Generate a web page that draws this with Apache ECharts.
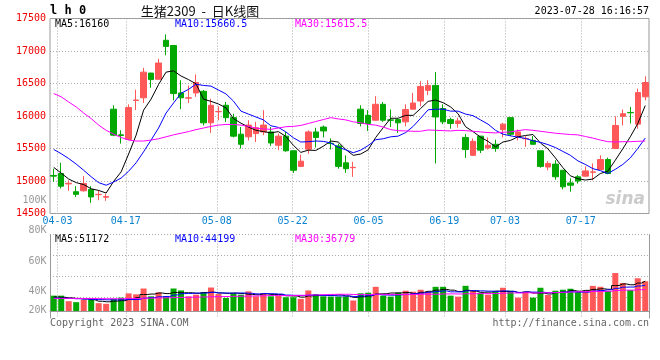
<!DOCTYPE html>
<html><head><meta charset="utf-8">
<script src="https://cdn.jsdelivr.net/npm/echarts@6/dist/echarts.min.js"></script>
<style>html,body{margin:0;padding:0;background:#fff}#c{width:660px;height:360px}</style>
</head><body><div id="c"></div>
<script>
// ---------- data ----------
const dates = ['03-31','04-03','04-04','04-06','04-07','04-10','04-11','04-12','04-13','04-14',
'04-17','04-18','04-19','04-20','04-21','04-24','04-25','04-26','04-27','04-28',
'05-04','05-05','05-08','05-09','05-10','05-11','05-12','05-15','05-16','05-17',
'05-18','05-19','05-22','05-23','05-24','05-25','05-26','05-29','05-30','05-31',
'06-01','06-02','06-05','06-06','06-07','06-08','06-09','06-12','06-13','06-14',
'06-15','06-16','06-19','06-20','06-21','06-26','06-27','06-28','06-29','06-30',
'07-03','07-04','07-05','07-06','07-07','07-10','07-11','07-12','07-13','07-14',
'07-17','07-18','07-19','07-20','07-21','07-24','07-25','07-26','07-27','07-28'];
const open  = [15085,15115,14955,14835,14850,14870,14790,14750,16105,15710,15640,16240,16280,16660,16565,17165,17085,16355,16275,16355,16380,15895,16065,16165,15975,15720,15680,15730,15755,15755,15550,15690,15465,15225,15490,15755,15830,15580,15540,15280,15205,16105,16010,15935,16180,15940,15945,15910,16105,16230,16395,16470,16115,15945,15885,15670,15395,15690,15510,15565,15790,15975,15690,15650,15625,15465,15215,15260,15165,14970,15065,15075,15135,15175,15330,15500,15995,16055,15875,16295];
const close = [15075,14920,14965,14795,14960,14755,14795,14760,15705,15700,16130,16245,16675,16560,16815,17070,16345,16280,16280,16515,15895,16165,16070,15975,15690,15565,15860,15820,15860,15585,15690,15465,15165,15305,15755,15670,15770,15575,15225,15190,15210,15885,15885,16180,15935,15935,15895,16100,16200,16455,16470,15985,15910,15885,15925,15485,15610,15475,15550,15500,15875,15720,15755,15655,15565,15225,15270,15065,14910,14935,15000,15155,15140,15330,15115,15855,16035,16050,16360,16515];
const low   = [14990,14885,14850,14755,14835,14665,14705,14695,15690,15575,15630,16090,16200,16435,16560,16935,16240,16105,16200,16295,15855,15740,15935,15910,15670,15500,15625,15600,15705,15540,15475,15450,15125,15215,15420,15515,15670,15485,15190,15125,15065,15840,15770,15930,15910,15830,15740,15840,16100,16150,16320,15270,15875,15805,15820,15355,15390,15430,15485,15450,15670,15690,15625,15525,15560,15205,15165,15020,14870,14835,14960,15065,15010,15170,15105,15495,15855,15885,15805,16240];
const high  = [15190,15280,15010,14920,15075,14920,14860,14805,16165,15780,16180,16405,16740,16665,16880,17255,17090,16550,16470,16640,16400,16265,16150,16215,16035,15830,15935,15910,16090,15830,15730,15755,15465,15405,15780,15820,15855,15655,15575,15395,15295,16165,16090,16305,16215,16100,15960,16180,16355,16535,16550,16675,16180,15975,15975,15720,15655,15690,15670,15635,15895,15980,15790,15690,15690,15465,15305,15320,15170,15040,15090,15225,15270,15395,15360,15995,16100,16140,16420,16610];
const ma5  = [15210,15120,15030,14975,14945,14880,14855,14815,14995,15140,15415,15705,16090,16260,16485,16675,16695,16615,16560,16495,16260,16225,16185,16125,15960,15890,15830,15780,15760,15740,15760,15685,15550,15440,15475,15470,15535,15615,15600,15485,15395,15415,15480,15670,15820,15965,15965,16010,16010,16115,16225,16245,16205,16140,16035,15835,15760,15675,15610,15525,15600,15625,15680,15700,15715,15585,15495,15355,15205,15080,15035,15015,15030,15115,15150,15320,15495,15680,15885,16160];
const ma10 = [15485,15420,15345,15260,15165,15065,14975,14935,14985,15045,15150,15280,15450,15630,15815,16045,16200,16350,16410,16490,16470,16460,16400,16340,16230,16075,16030,15985,15940,15850,15825,15755,15665,15600,15605,15615,15610,15585,15520,15480,15435,15475,15545,15635,15650,15680,15690,15745,15840,15965,16095,16105,16105,16075,16075,16030,16005,15940,15875,15780,15720,15695,15675,15655,15620,15595,15560,15515,15455,15395,15310,15255,15190,15160,15115,15180,15255,15355,15500,15660.5];
const ma30 = [16345,16295,16215,16140,16045,15960,15860,15780,15720,15670,15630,15615,15615,15630,15650,15680,15710,15735,15760,15790,15815,15840,15860,15870,15870,15860,15840,15815,15800,15795,15815,15835,15840,15855,15885,15915,15945,15975,15955,15940,15910,15895,15870,15860,15830,15790,15775,15770,15765,15765,15785,15780,15775,15770,15780,15775,15765,15755,15745,15740,15750,15755,15775,15790,15780,15765,15750,15735,15725,15715,15710,15685,15660,15630,15605,15600,15605,15605,15610,15615.5];
const volume = [26300,26300,16800,15100,19100,19000,13400,12300,20700,22900,30200,28500,38500,25100,31900,25100,38500,35200,25100,27900,31900,40200,29000,22400,30200,27900,33600,25100,30200,25100,26200,23500,23500,20700,35200,29000,25100,24600,24600,24600,18000,30300,31300,41400,26300,24600,31300,34700,33000,36400,33000,41400,41400,26300,24600,43100,34700,31300,28000,33000,39800,34700,22900,33000,22900,39800,27400,34700,36400,38100,33000,34500,43000,41500,34100,65000,48000,36000,56000,50900];
const volMa5  = [24000,23500,22500,21500,20700,19300,16700,15800,16900,17700,19900,22900,28200,29000,30800,29800,31800,31200,31200,30400,31700,32100,30800,30300,30700,29900,28600,27800,29400,28400,28000,26000,25700,23800,25800,26400,26700,26900,27700,25600,23400,24400,25800,29100,29500,30800,31000,31700,30000,32000,33700,35700,37000,35700,33300,35400,34000,32000,32300,34000,33400,33400,31700,32700,30700,30700,29200,31600,32200,35300,33900,35300,37000,38000,37200,43600,46300,44900,47800,51172];
const volMa10 = [22000,21800,21500,21000,20500,20000,19500,19200,19000,19200,19600,19800,22000,23000,24300,24900,27400,29700,30100,30600,30800,31900,31000,30700,30600,30800,30300,29300,29800,29600,29000,27300,26800,26600,27100,27200,26400,26300,25800,25700,24900,25600,26300,28400,27500,27100,27700,28700,29600,30700,32200,33300,34400,32800,32700,34500,34900,34500,34000,33700,34400,33700,31800,32500,32300,32000,31300,31600,32500,33000,32300,32300,34300,35100,36300,38800,40800,41000,42900,44199];
const volMa30 = [21500,21600,21600,21500,21400,21300,21200,21000,21000,21100,21300,21500,21900,22100,22400,22600,23000,23300,23500,23800,24100,24500,24700,24800,25100,25300,25600,25800,26100,26500,26400,26400,26600,26800,27300,27600,28000,28400,28600,28600,28200,28300,28000,28600,28400,28400,28100,28100,28400,28700,28700,28700,29200,29300,29100,29600,29600,29800,29800,30000,30500,30900,30800,31300,30800,31200,31300,31600,32000,32500,33000,33100,33500,33500,33800,35100,35700,35700,36500,36779];
const labelDates = ['04-03','04-17','05-08','05-22','06-05','06-19','07-03','07-17'];
const volTickLabels = ['100K','80K','60K','40K','20K'];
const legendPrice = ['MA5:16160','MA10:15660.5','MA30:15615.5'];
const legendVol = ['MA5:51172','MA10:44199','MA30:36779'];
const titleText = '生猪2309  -  日K线图';
const codeText = 'l h 0';
const timeText = '2023-07-28 16:16:57';

// ---------- styles / layout ----------
const RED = '#ff5858', GREEN = '#00a800';
const MONO = '"DejaVu Sans Mono", "Liberation Mono", monospace';
const GRIDC = '#aaaaaa', BORDER = '#999999';
const maColors = ['#000000', '#0000ff', '#ff00ff'];
const volLabelY = [200, 230.5, 261.5, 291, 310.5];
const legendX = [55, 175, 295];

const isLabel = (idx, val) => labelDates.indexOf(val) >= 0;
const dotted = { type: [1, 2], color: GRIDC, width: 1 };

const chart = echarts.init(document.getElementById('c'), null, { renderer: 'canvas' });

const graphics = [];
graphics.push({ type: 'text', x: 50, y: 11, style: { text: codeText, fill: '#000', font: 'bold 12px ' + MONO, align: 'left', verticalAlign: 'middle' } });
graphics.push({ type: 'text', x: 200, y: 11, style: { text: titleText, fill: '#111', font: '13px "Noto Sans CJK SC", sans-serif', align: 'center', verticalAlign: 'middle' } });
graphics.push({ type: 'text', x: 649, y: 11, style: { text: timeText, fill: '#000', font: '10px ' + MONO, align: 'right', verticalAlign: 'middle' } });
legendPrice.forEach((t, i) => graphics.push({ type: 'text', x: legendX[i], y: 24.5, style: { text: t, fill: maColors[i], font: '10px ' + MONO, align: 'left', verticalAlign: 'middle' } }));
legendVol.forEach((t, i) => graphics.push({ type: 'text', x: legendX[i], y: 239, style: { text: t, fill: maColors[i], font: '10px ' + MONO, align: 'left', verticalAlign: 'middle' } }));
volTickLabels.forEach((t, i) => graphics.push({ type: 'text', x: 46.5, y: volLabelY[i], style: { text: t, fill: '#999', font: '10px ' + MONO, align: 'right', verticalAlign: 'middle' } }));
graphics.push({ type: 'text', x: 50, y: 323.5, style: { text: 'Copyright 2023 SINA.COM', fill: '#666', font: '10px ' + MONO, align: 'left', verticalAlign: 'middle' } });
graphics.push({ type: 'text', x: 649, y: 323.5, style: { text: 'http://finance.sina.com.cn', fill: '#666', font: '10px ' + MONO, align: 'right', verticalAlign: 'middle' } });
graphics.push({ type: 'text', x: 645, y: 200, style: { text: 'sina', fill: 'rgba(190,190,190,0.8)', font: 'italic bold 17px "DejaVu Sans", sans-serif', align: 'right', verticalAlign: 'middle' } });

const lineSeries = (name, data, color, xi, yi, step) => ({
  name, type: 'line', data, xAxisIndex: xi, yAxisIndex: yi, showSymbol: false, symbol: 'none',
  step: step || false, lineStyle: { color, width: 1 }, silent: true, z: 4
});

chart.setOption({
  animation: false,
  backgroundColor: '#fff',
  grid: [
    { left: 50, top: 18.5, width: 599, height: 195, show: true, borderColor: BORDER, borderWidth: 1 },
    { left: 50, top: 234.5, width: 599, height: 83.5, show: false }
  ],
  xAxis: [
    { type: 'category', gridIndex: 0, data: dates, boundaryGap: true, show: false, position: 'top' },
    { type: 'category', gridIndex: 0, data: dates, boundaryGap: false, position: 'bottom',
      axisLine: { show: false }, axisTick: { show: false },
      axisLabel: { interval: isLabel, color: '#0a82d0', fontFamily: MONO, fontSize: 10, margin: 3, hideOverlap: false },
      splitLine: { show: true, interval: isLabel, lineStyle: dotted } },
    { type: 'category', gridIndex: 1, data: dates, boundaryGap: true, show: false, position: 'bottom' },
    { type: 'category', gridIndex: 1, data: dates, boundaryGap: false, position: 'top',
      axisLine: { show: true, lineStyle: { color: BORDER, width: 1 } }, axisTick: { show: false },
      axisLabel: { show: false },
      splitLine: { show: true, interval: isLabel, lineStyle: dotted } }
  ],
  yAxis: [
    { type: 'value', gridIndex: 0, min: 14500, max: 17500, interval: 500,
      axisLine: { show: false }, axisTick: { show: false },
      axisLabel: { color: '#ee0000', fontFamily: MONO, fontSize: 10, margin: 4, formatter: v => String(v) },
      splitLine: { show: true, lineStyle: dotted } },
    { type: 'value', gridIndex: 1, min: -12000, max: 131000, interval: 35750, position: 'left',
      axisLine: { show: true, lineStyle: { color: BORDER, width: 1 } }, axisTick: { show: false },
      axisLabel: { show: false }, splitLine: { show: true, showMinLine: false, lineStyle: dotted } },
    { type: 'value', gridIndex: 1, min: -12000, max: 131000, interval: 35750, position: 'right',
      axisLine: { show: true, lineStyle: { color: BORDER, width: 1 } }, axisTick: { show: false },
      axisLabel: { show: false }, splitLine: { show: false } }
  ],
  series: [
    { type: 'candlestick', xAxisIndex: 0, yAxisIndex: 0, barWidth: 6,
      data: dates.map((d, i) => [open[i], close[i], low[i], high[i]]),
      itemStyle: { color: RED, color0: GREEN, borderColor: RED, borderColor0: GREEN, borderWidth: 1 }, z: 3 },
    lineSeries('MA5', ma5, maColors[0], 0, 0),
    lineSeries('MA10', ma10, maColors[1], 0, 0),
    lineSeries('MA30', ma30, maColors[2], 0, 0),
    { type: 'bar', xAxisIndex: 2, yAxisIndex: 1, barWidth: 6,
      data: volume.map((v, i) => ({ value: v, itemStyle: { color: close[i] > open[i] ? RED : GREEN } })), z: 3 },
    lineSeries('VMA5', volMa5, maColors[0], 2, 1, 'middle'),
    lineSeries('VMA10', volMa10, maColors[1], 2, 1, 'middle'),
    lineSeries('VMA30', volMa30, maColors[2], 2, 1, 'middle')
  ],
  graphic: graphics
});
</script>
</body></html>
